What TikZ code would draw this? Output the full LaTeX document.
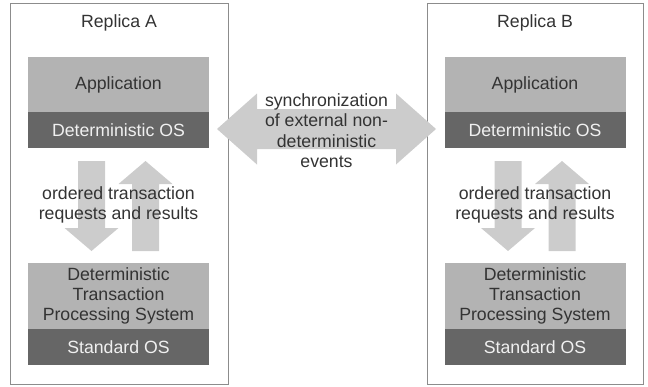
\documentclass[tikz,border=0pt]{standalone}
\usepackage{fontspec}
\setmainfont{Liberation Sans}
\definecolor{layerlight}{RGB}{179,179,179}
\definecolor{layerdark}{RGB}{102,102,102}
\definecolor{flowgray}{RGB}{204,204,204}
\definecolor{inktext}{RGB}{51,51,51}
\definecolor{framegray}{RGB}{140,140,140}
\tikzset{
  every node/.style={font=\fontsize{17.7}{20.4}\selectfont, inner sep=0pt},
  replicaframe/.style={draw=framegray, line width=0.9pt, minimum height=381pt},
  upperlayer/.style={fill=layerlight, text=inktext, minimum width=181pt, align=center},
  lowerlayer/.style={fill=layerdark, text=white!94!black, minimum width=181pt, minimum height=36pt},
  note/.style={text=inktext, align=center},
  flow/.style={fill=flowgray},
  % pair of block arrows (down, then up) hanging below a reference point
  pics/twoway/.style={code={
    \fill[flow] (-40.5,0) -- (-13.5,0) -- (-13.5,67) -- (0,67) -- (-27,90)
      -- (-54,67) -- (-40.5,67) -- cycle;
    \fill[flow] (13.5,90) -- (40.5,90) -- (40.5,23) -- (54,23) -- (27,0)
      -- (0,23) -- (13.5,23) -- cycle;
  }}
}
\begin{document}
\begin{tikzpicture}[x=1pt,y=-1pt]
  \useasboundingbox (0,0) rectangle (648,386);

  % replica frames
  \node[replicaframe, minimum width=218pt] (frameA) at (119,193.5) {};
  \node[replicaframe, minimum width=216pt] (frameB) at (535,193.5) {};
  \node[note] (titleA) at (119,23) {Replica A};
  \node[note] (titleB) at (535,23) {Replica B};

  % Replica A stack
  \node[upperlayer, minimum height=55pt] (appA) at (118.5,84.5) {Application};
  \node[lowerlayer] (dosA) at (118.5,130) {Deterministic OS};
  \node[upperlayer, minimum height=66pt] (dtpsA) at (118.5,296)
    {Deterministic\\Transaction\\Processing System};
  \node[lowerlayer] (sosA) at (118.5,347) {Standard OS};
  \coordinate (flowA) at (118.5,161);
  \pic at (flowA) {twoway};
  \node[note] (reqA) at (118.5,205) {ordered transaction\\requests and results};

  % Replica B stack
  \node[upperlayer, minimum height=55pt] (appB) at (535,84.5) {Application};
  \node[lowerlayer] (dosB) at (535,130) {Deterministic OS};
  \node[upperlayer, minimum height=66pt] (dtpsB) at (535,296)
    {Deterministic\\Transaction\\Processing System};
  \node[lowerlayer] (sosB) at (535,347) {Standard OS};
  \coordinate (flowB) at (535,161);
  \pic at (flowB) {twoway};
  \node[note] (reqB) at (535,205) {ordered transaction\\requests and results};

  % synchronization between the replicas
  \fill[flow] (217,129) -- (257,93.5) -- (257,109) -- (396,109) -- (396,93.5)
    -- (436,129) -- (396,164.5) -- (396,149) -- (257,149) -- (257,164.5) -- cycle;
  \node[note] (sync) at (326.5,130.5)
    {synchronization\\of external non-\\deterministic\\events};
\end{tikzpicture}
\end{document}
